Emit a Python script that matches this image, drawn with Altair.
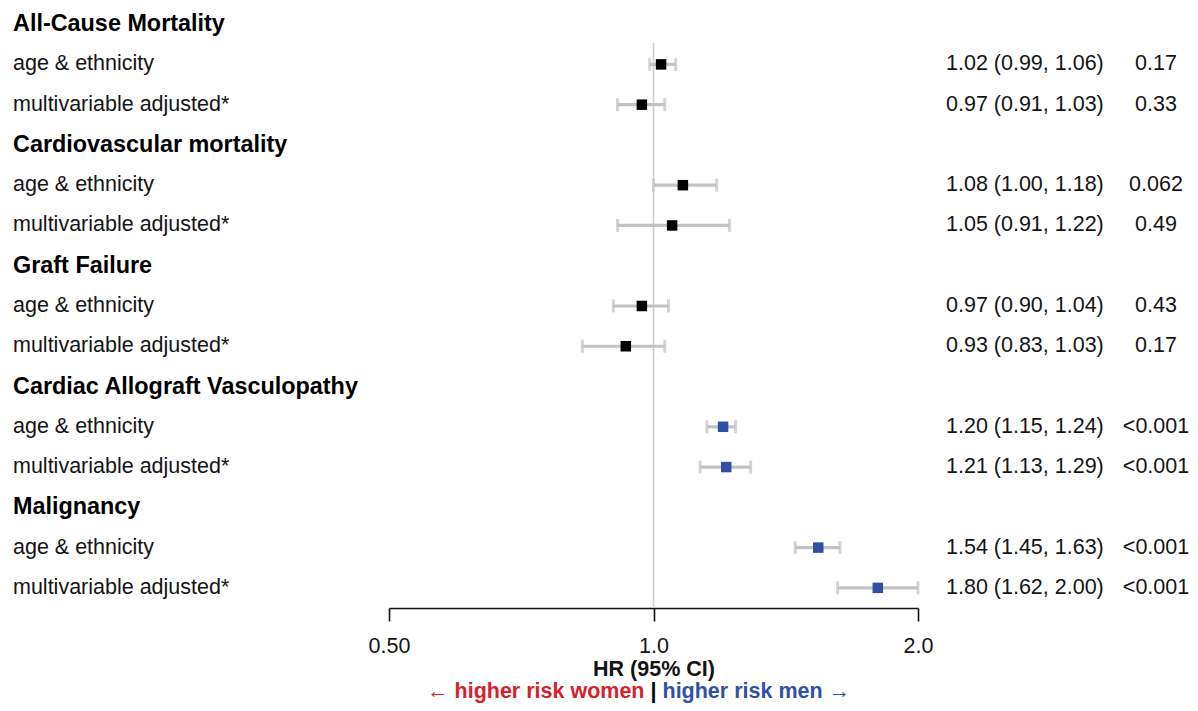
import altair as alt
import pandas as pd

groups = ["All-Cause Mortality", "Cardiovascular mortality", "Graft Failure",
          "Cardiac Allograft Vasculopathy", "Malignancy"]
models = ["age & ethnicity", "multivariable adjusted*"]
hr = [1.02, 0.97, 1.08, 1.05, 0.97, 0.93, 1.20, 1.21, 1.54, 1.80]
lo = [0.99, 0.91, 1.00, 0.91, 0.90, 0.83, 1.15, 1.13, 1.45, 1.62]
hi = [1.06, 1.03, 1.18, 1.22, 1.04, 1.03, 1.24, 1.29, 1.63, 2.00]
pval = ["0.17", "0.33", "0.062", "0.49", "0.43", "0.17",
        "<0.001", "<0.001", "<0.001", "<0.001"]
sig = [False, False, False, False, False, False, True, True, True, True]
x_ticks = [0.5, 1.0, 2.0]
null_hr = 1.0

FONT = "Liberation Sans"
TXT = "#141414"
BLUE = "#3050a8"
RED = "#d8202b"
GRAY = "#c2c2c2"

head_rows, est_rows = [], []
k = 0
for g_i, g in enumerate(groups):
    head_rows.append({"row": 3 * g_i, "label": g})
    for m_i, m in enumerate(models):
        est_rows.append({
            "row": 3 * g_i + 1 + m_i, "label": m, "hr": hr[k], "lo": lo[k], "hi": hi[k],
            "ci": f"{hr[k]:.2f} ({lo[k]:.2f}, {hi[k]:.2f})", "p": pval[k],
            "col": "men" if sig[k] else "ns",
        })
        k += 1
heads = pd.DataFrame(head_rows)
est = pd.DataFrame(est_rows)
refdf = pd.DataFrame({"x": [null_hr], "y0": [0.47], "y1": [14.5]})
ann = pd.DataFrame({"x": [null_hr] * 3,
                    "t": ["\u2190 higher risk women", "|", "higher risk men \u2192"]})

yscale = alt.Scale(domain=[-0.4, 14.5], reverse=True, nice=False, zero=False)
xscale = alt.Scale(type="log", domain=[0.5, 2.0], nice=False)
Y = alt.Y("row:Q", scale=yscale, axis=None)

xaxis = alt.Axis(
    values=x_ticks, grid=False,
    labelExpr="datum.value == 0.5 ? '0.50' : format(datum.value, '.1f')",
    domainColor="#111", domainWidth=1.6, tickColor="#111", tickWidth=1.6, tickSize=13,
    labelFontSize=21.5, labelColor=TXT, labelPadding=14, labelFont=FONT,
    labelFlush=False, labelOverlap=False,
    title="HR (95% CI)", titleFontSize=21.5, titleFontWeight="bold", titleFont=FONT,
    titleColor=TXT, titleY=61, titleBaseline="middle",
)

ref = alt.Chart(refdf).mark_rule(color="#cfcfcf", strokeWidth=1.6).encode(
    x=alt.X("x:Q", scale=xscale, axis=xaxis),
    y=alt.Y("y0:Q", scale=yscale, axis=None),
    y2="y1:Q",
)

bars = alt.Chart(est).mark_rule(color=GRAY, strokeWidth=3.2).encode(
    x=alt.X("lo:Q", scale=xscale), x2="hi:Q", y=Y)
cap_lo = alt.Chart(est).mark_tick(color=GRAY, thickness=3, size=13, orient="vertical").encode(
    x=alt.X("lo:Q", scale=xscale), y=Y)
cap_hi = alt.Chart(est).mark_tick(color=GRAY, thickness=3, size=13, orient="vertical").encode(
    x=alt.X("hi:Q", scale=xscale), y=Y)
pts = alt.Chart(est).mark_square(size=110, opacity=1, filled=True).encode(
    x=alt.X("hr:Q", scale=xscale), y=Y,
    color=alt.Color("col:N", scale=alt.Scale(domain=["ns", "men"], range=["#000000", BLUE]),
                    legend=None),
)

head_txt = alt.Chart(heads).mark_text(
    align="left", baseline="middle", font=FONT, fontSize=23.4, fontWeight="bold", color="#000"
).encode(x=alt.value(-376), y=Y, text="label:N")
sub_txt = alt.Chart(est).mark_text(
    align="left", baseline="middle", font=FONT, fontSize=21.5, color=TXT
).encode(x=alt.value(-376), y=Y, text="label:N")
ci_txt = alt.Chart(est).mark_text(
    align="left", baseline="middle", font=FONT, fontSize=21.5, color=TXT
).encode(x=alt.value(557), y=Y, text="ci:N")
p_txt = alt.Chart(est).mark_text(
    align="center", baseline="middle", font=FONT, fontSize=21.5, color=TXT
).encode(x=alt.value(767), y=Y, text="p:N")

ANN_Y = 684
ann_women = alt.Chart(ann.iloc[[0]]).mark_text(
    align="right", baseline="middle", font=FONT, fontSize=21.5, fontWeight="bold",
    color=RED, dx=-9).encode(x=alt.X("x:Q", scale=xscale), y=alt.value(ANN_Y), text="t:N")
ann_bar = alt.Chart(ann.iloc[[1]]).mark_text(
    align="center", baseline="middle", font=FONT, fontSize=21.5, fontWeight="bold",
    color="#000").encode(x=alt.X("x:Q", scale=xscale), y=alt.value(ANN_Y), text="t:N")
ann_men = alt.Chart(ann.iloc[[2]]).mark_text(
    align="left", baseline="middle", font=FONT, fontSize=21.5, fontWeight="bold",
    color=BLUE, dx=9).encode(x=alt.X("x:Q", scale=xscale), y=alt.value(ANN_Y), text="t:N")

chart = alt.layer(
    ref, bars, cap_lo, cap_hi, pts, head_txt, sub_txt, ci_txt, p_txt,
    ann_women, ann_bar, ann_men,
).properties(
    width=529, height=600,
    autosize=alt.AutoSizeParams(type="none"),
    padding={"left": 381, "right": 272, "top": 0, "bottom": 95},
    background="white",
).configure(font=FONT).configure_view(strokeWidth=0, stroke=None)

chart.save("out.html", embed_options={"renderer": "svg", "actions": False})
